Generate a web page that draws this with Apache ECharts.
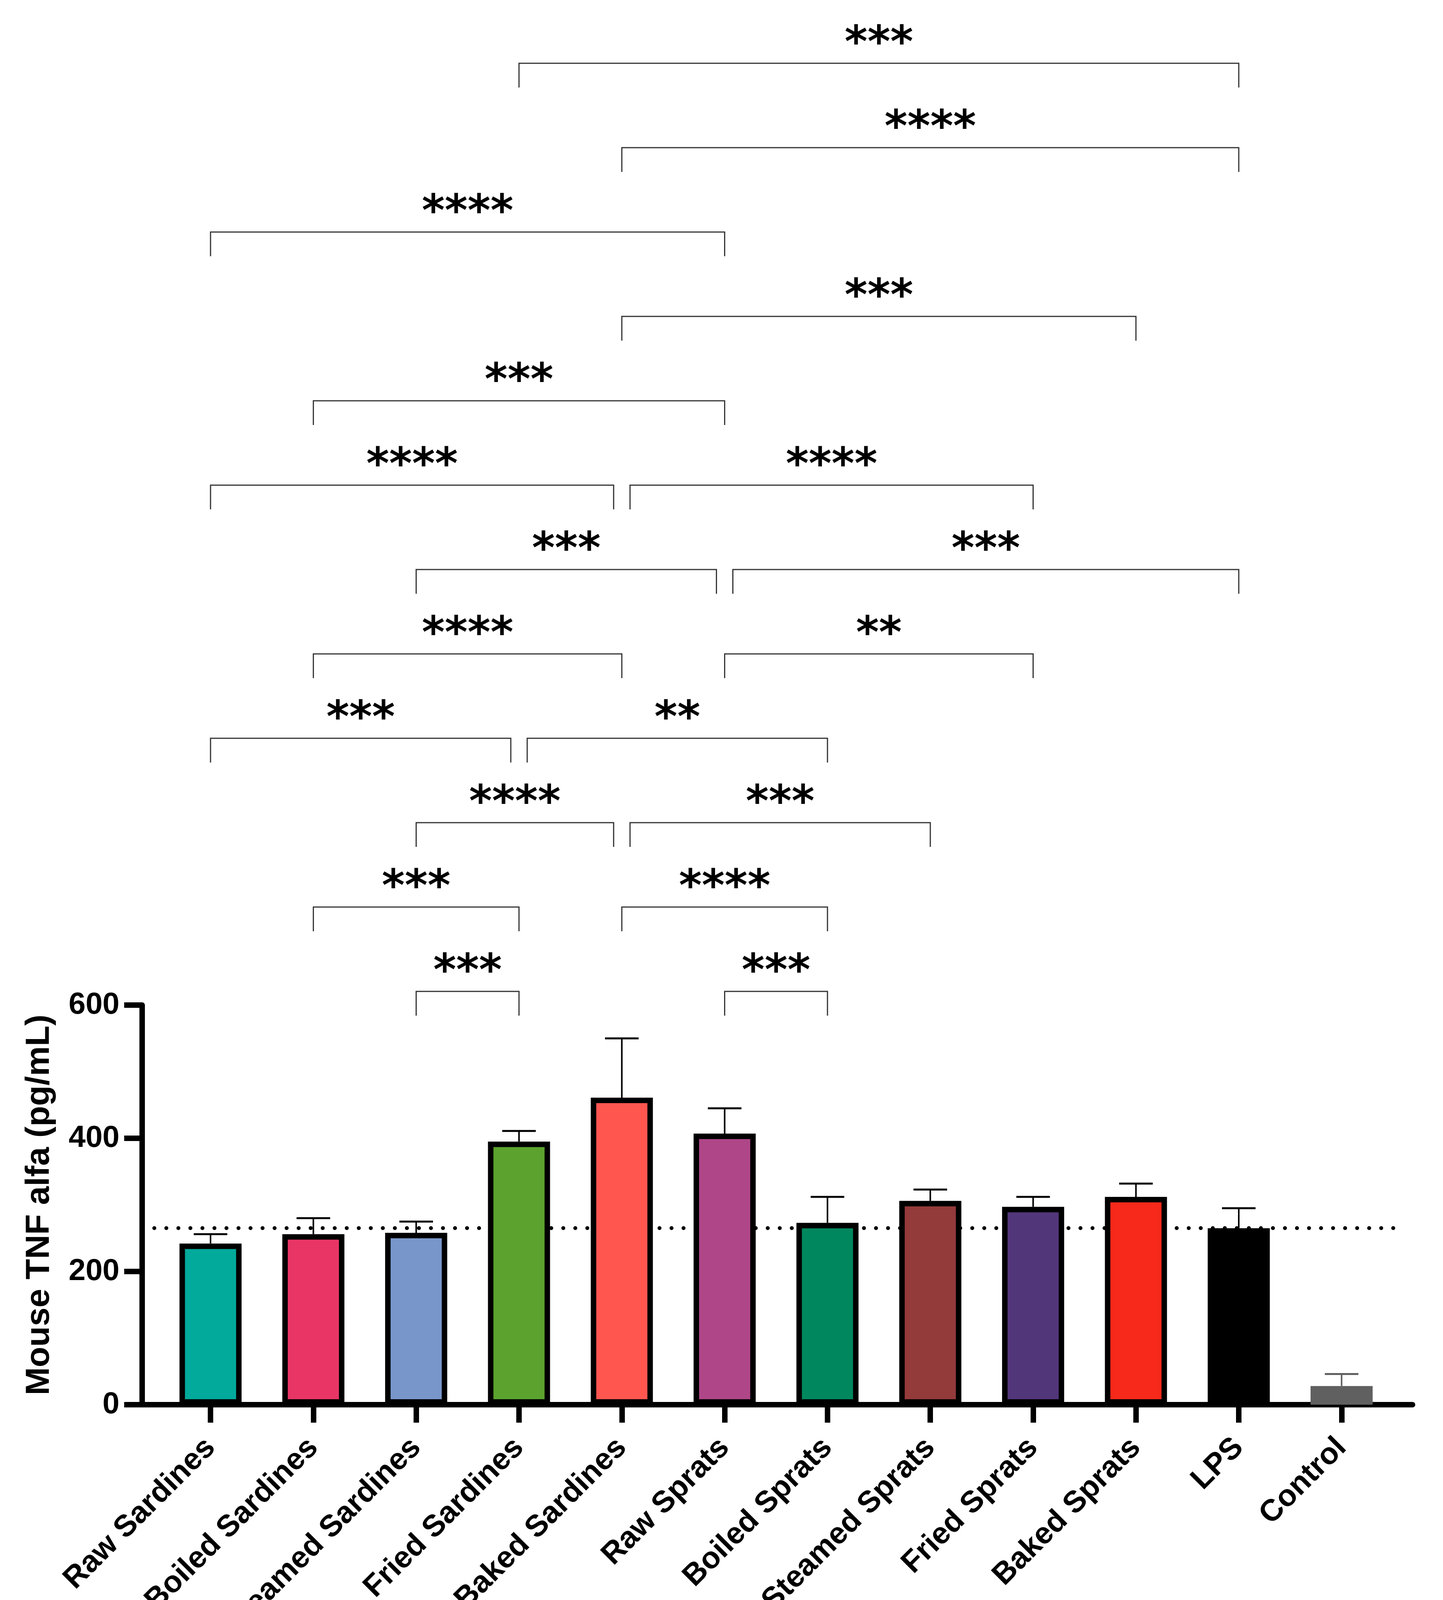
<!DOCTYPE html>
<html><head><meta charset="utf-8">
<script src="https://cdn.jsdelivr.net/npm/echarts@6/dist/echarts.min.js"></script>
<style>html,body{margin:0;padding:0;background:#fff}#c{width:3695px;height:4241px}</style>
</head><body><div id="c"></div>
<script>
// ---- data ----
const categories = ['Raw Sardines','Boiled Sardines','Steamed Sardines','Fried Sardines','Baked Sardines','Raw Sprats','Boiled Sprats','Steamed Sprats','Fried Sprats','Baked Sprats','LPS','Control'];
const means  = [242, 256, 258, 395, 461, 407, 273, 306, 297, 312, 265, 28];
const errors = [14, 24, 17, 16, 89, 38, 39, 17, 15, 20, 30, 18];
const colors = ['#02AA9B','#E83565','#7896CA','#5BA22E','#FF5650','#AE4688','#00875E','#933A3B','#52367A','#F6291A','#000000','#606060'];
const yTicks = [0, 200, 400, 600];
// [group A, group B, bracket level, significance]
const comparisons = [
  [2,3,1,'***'],[5,6,1,'***'],
  [1,3,2,'***'],[4,6,2,'****'],
  [2,4,3,'****'],[4,7,3,'***'],
  [0,3,4,'***'],[3,6,4,'**'],
  [1,4,5,'****'],[5,8,5,'**'],
  [2,5,6,'***'],[5,10,6,'***'],
  [0,4,7,'****'],[4,8,7,'****'],
  [1,5,8,'***'],
  [4,9,9,'***'],
  [0,5,10,'****'],
  [4,10,11,'****'],
  [3,10,12,'***']
];
const referenceIndex = 10; // LPS dotted reference line

// ---- layout ----
const X_MIN = -0.665, X_MAX = 11.69;
const LEFT = 364, RIGHT = 78;
const TICK = 62, GAP = 21, STAR_OFF = 46;
const catIdx = categories.map((c,i)=>i);
const numFont = 'Liberation Sans';

const chart = echarts.init(document.getElementById('c'), null, {renderer:'canvas'});
chart.setOption({
  animation: false,
  backgroundColor: '#fff',
  grid: [
    {left: LEFT, right: RIGHT, top: 2573, bottom: 645},
    {left: LEFT, right: RIGHT, top: 162, height: 2376}
  ],
  xAxis: [
    {
      type: 'value', gridIndex: 0, min: X_MIN, max: X_MAX,
      splitLine: {show: false},
      axisLine: {show: true, onZero: false, lineStyle: {color: '#000', width: 14}},
      axisTick: {show: true, customValues: catIdx, length: 46, lineStyle: {color: '#000', width: 14}},
      axisLabel: {
        show: true, customValues: catIdx, rotate: 45, margin: 98,
        formatter: v => categories[Math.round(v)] || '',
        fontFamily: numFont, fontWeight: 'bold', fontSize: 78, color: '#000'
      }
    },
    {type: 'value', gridIndex: 1, min: X_MIN, max: X_MAX, show: false}
  ],
  yAxis: [
    {
      type: 'value', gridIndex: 0, min: yTicks[0], max: yTicks[yTicks.length-1], interval: 200,
      name: 'Mouse TNF alfa (pg/mL)', nameLocation: 'middle', nameGap: 220,
      nameTextStyle: {fontFamily: numFont, fontWeight: 'bold', fontSize: 86, color: '#000'},
      splitLine: {show: false},
      axisLine: {show: true, onZero: false, lineStyle: {color: '#000', width: 14}},
      axisTick: {show: true, length: 46, lineStyle: {color: '#000', width: 14}},
      axisLabel: {margin: 58, fontFamily: numFont, fontWeight: 'bold', fontSize: 78, color: '#000'}
    },
    {type: 'value', gridIndex: 1, min: 1, max: 12, show: false}
  ],
  series: [
    {
      type: 'bar', xAxisIndex: 0, yAxisIndex: 0, z: 2, barWidth: 159,
      data: means.map((m,i)=>({value:[i,m], itemStyle:{color: colors[i], borderColor: i===11 ? colors[i] : '#000', borderWidth: 14}})),
      markLine: {
        silent: true, symbol: 'none', z: 1, label: {show: false},
        lineStyle: {color: '#000', width: 10, type: [0.1, 30.7], cap: 'round'},
        data: [[{coord: [-0.547, means[referenceIndex]]}, {coord: [11.587, means[referenceIndex]]}]]
      }
    },
    {
      type: 'custom', xAxisIndex: 0, yAxisIndex: 0, z: 3,
      data: means.map((m,i)=>[i, m, m + errors[i]]),
      encode: {x: 0, y: [1,2]},
      renderItem: (params, api) => {
        const i = api.value(0);
        const pM = api.coord([i, api.value(1)]);
        const pT = api.coord([i, api.value(2)]);
        const col = i === 11 ? '#606060' : '#000';
        return {type: 'group', children: [
          {type: 'line', shape: {x1: pM[0], y1: pM[1], x2: pT[0], y2: pT[1]}, style: {stroke: col, lineWidth: 4}},
          {type: 'line', shape: {x1: pT[0]-43, y1: pT[1], x2: pT[0]+43, y2: pT[1]}, style: {stroke: col, lineWidth: 5}}
        ]};
      }
    },
    {
      type: 'custom', xAxisIndex: 1, yAxisIndex: 1, z: 3, clip: false,
      data: comparisons.map(c=>[c[0], c[1], c[2]]),
      encode: {x: [0,1], y: 2},
      renderItem: (params, api) => {
        const idx = params.dataIndex;
        const a = api.value(0), b = api.value(1), lv = api.value(2);
        let x1 = api.coord([a, lv])[0];
        let x2 = api.coord([b, lv])[0];
        const y = api.coord([a, lv])[1];
        if (comparisons.some((c,j)=>j!==idx && c[2]===lv && c[0]===b)) x2 -= GAP;
        if (comparisons.some((c,j)=>j!==idx && c[2]===lv && c[1]===a)) x1 += GAP;
        return {type: 'group', children: [
          {type: 'polyline', shape: {points: [[x1, y+TICK],[x1, y],[x2, y],[x2, y+TICK]]}, style: {stroke: '#333', lineWidth: 3, fill: null}},
          {type: 'text', x: (x1+x2)/2, y: y-STAR_OFF, style: {text: comparisons[idx][3], fontFamily: 'DejaVu Sans', fontWeight: 'bold', fontSize: 112, fill: '#000', align: 'center', verticalAlign: 'middle'}}
        ]};
      }
    }
  ]
});
</script></body></html>
